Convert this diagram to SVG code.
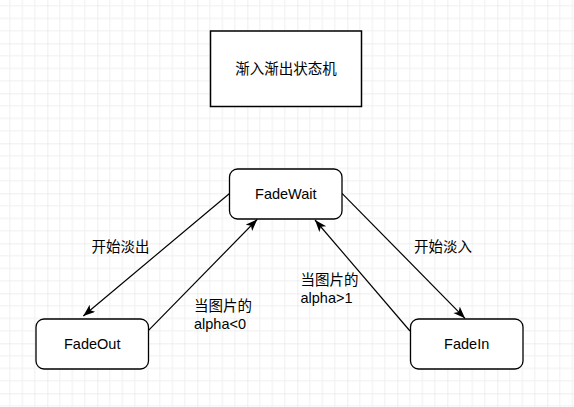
<svg xmlns="http://www.w3.org/2000/svg" width="574" height="407" viewBox="0 0 574 407">
<style>
.node{fill:#fff;stroke:#000;stroke-width:1.3}
.lbl{font-family:"Liberation Sans","Noto Sans CJK SC",sans-serif;font-size:14.5px;fill:#000}
.c{text-anchor:middle;dominant-baseline:central}
.edge{fill:none;stroke:#000;stroke-width:1.2}
</style>
<defs>
<pattern id="grid" patternUnits="userSpaceOnUse" x="-2.67" y="-6.67" width="50" height="50">
<path d="M12.5,0V50M25,0V50M37.5,0V50M0,12.5H50M0,25H50M0,37.5H50" stroke="#f0f0f0" stroke-width="1" fill="none"/>
<path d="M0,0V50M0,0H50" stroke="#dedede" stroke-width="1" fill="none"/>
</pattern>
<marker id="arr" markerUnits="userSpaceOnUse" markerWidth="13" markerHeight="10" refX="12" refY="4.5" orient="auto">
<path d="M0,0 L12,4.5 L0,9 L3,4.5 z" fill="#000"/>
</marker>
</defs>
<rect width="574" height="407" fill="#fff"/>
<rect width="574" height="407" fill="url(#grid)"/>
<g id="title">
<rect x="210.5" y="31" width="151" height="75.5" fill="#fff" stroke="#000" stroke-width="1.5"/>
<text class="lbl c" x="286" y="69">渐入渐出状态机</text>
</g>
<g id="edges">
<line class="edge" x1="229.5" y1="193.5" x2="83.3" y2="316" marker-end="url(#arr)"/>
<line class="edge" x1="148.3" y1="330.7" x2="257.3" y2="219.3" marker-end="url(#arr)"/>
<line class="edge" x1="342" y1="193.3" x2="465" y2="318.3" marker-end="url(#arr)"/>
<line class="edge" x1="410" y1="331" x2="315" y2="220" marker-end="url(#arr)"/>
<text class="lbl c" x="120.5" y="247">开始淡出</text>
<text class="lbl c" x="443" y="247">开始淡入</text>
<text class="lbl" x="194" y="305.5" dominant-baseline="central">当图片的</text>
<text class="lbl" x="194" y="323.5" dominant-baseline="central">alpha&lt;0</text>
<text class="lbl" x="300.5" y="279.5" dominant-baseline="central">当图片的</text>
<text class="lbl" x="300.5" y="297.5" dominant-baseline="central">alpha&gt;1</text>
</g>
<g id="fadewait">
<rect class="node" x="229.5" y="169" width="112.5" height="50" rx="8"/>
<text class="lbl c" x="285.8" y="194">FadeWait</text>
</g>
<g id="fadeout">
<rect class="node" x="36" y="319" width="112.5" height="50" rx="8"/>
<text class="lbl c" x="92.2" y="344">FadeOut</text>
</g>
<g id="fadein">
<rect class="node" x="410.5" y="319" width="112.5" height="50" rx="8"/>
<text class="lbl c" x="466.7" y="344">FadeIn</text>
</g>
</svg>
